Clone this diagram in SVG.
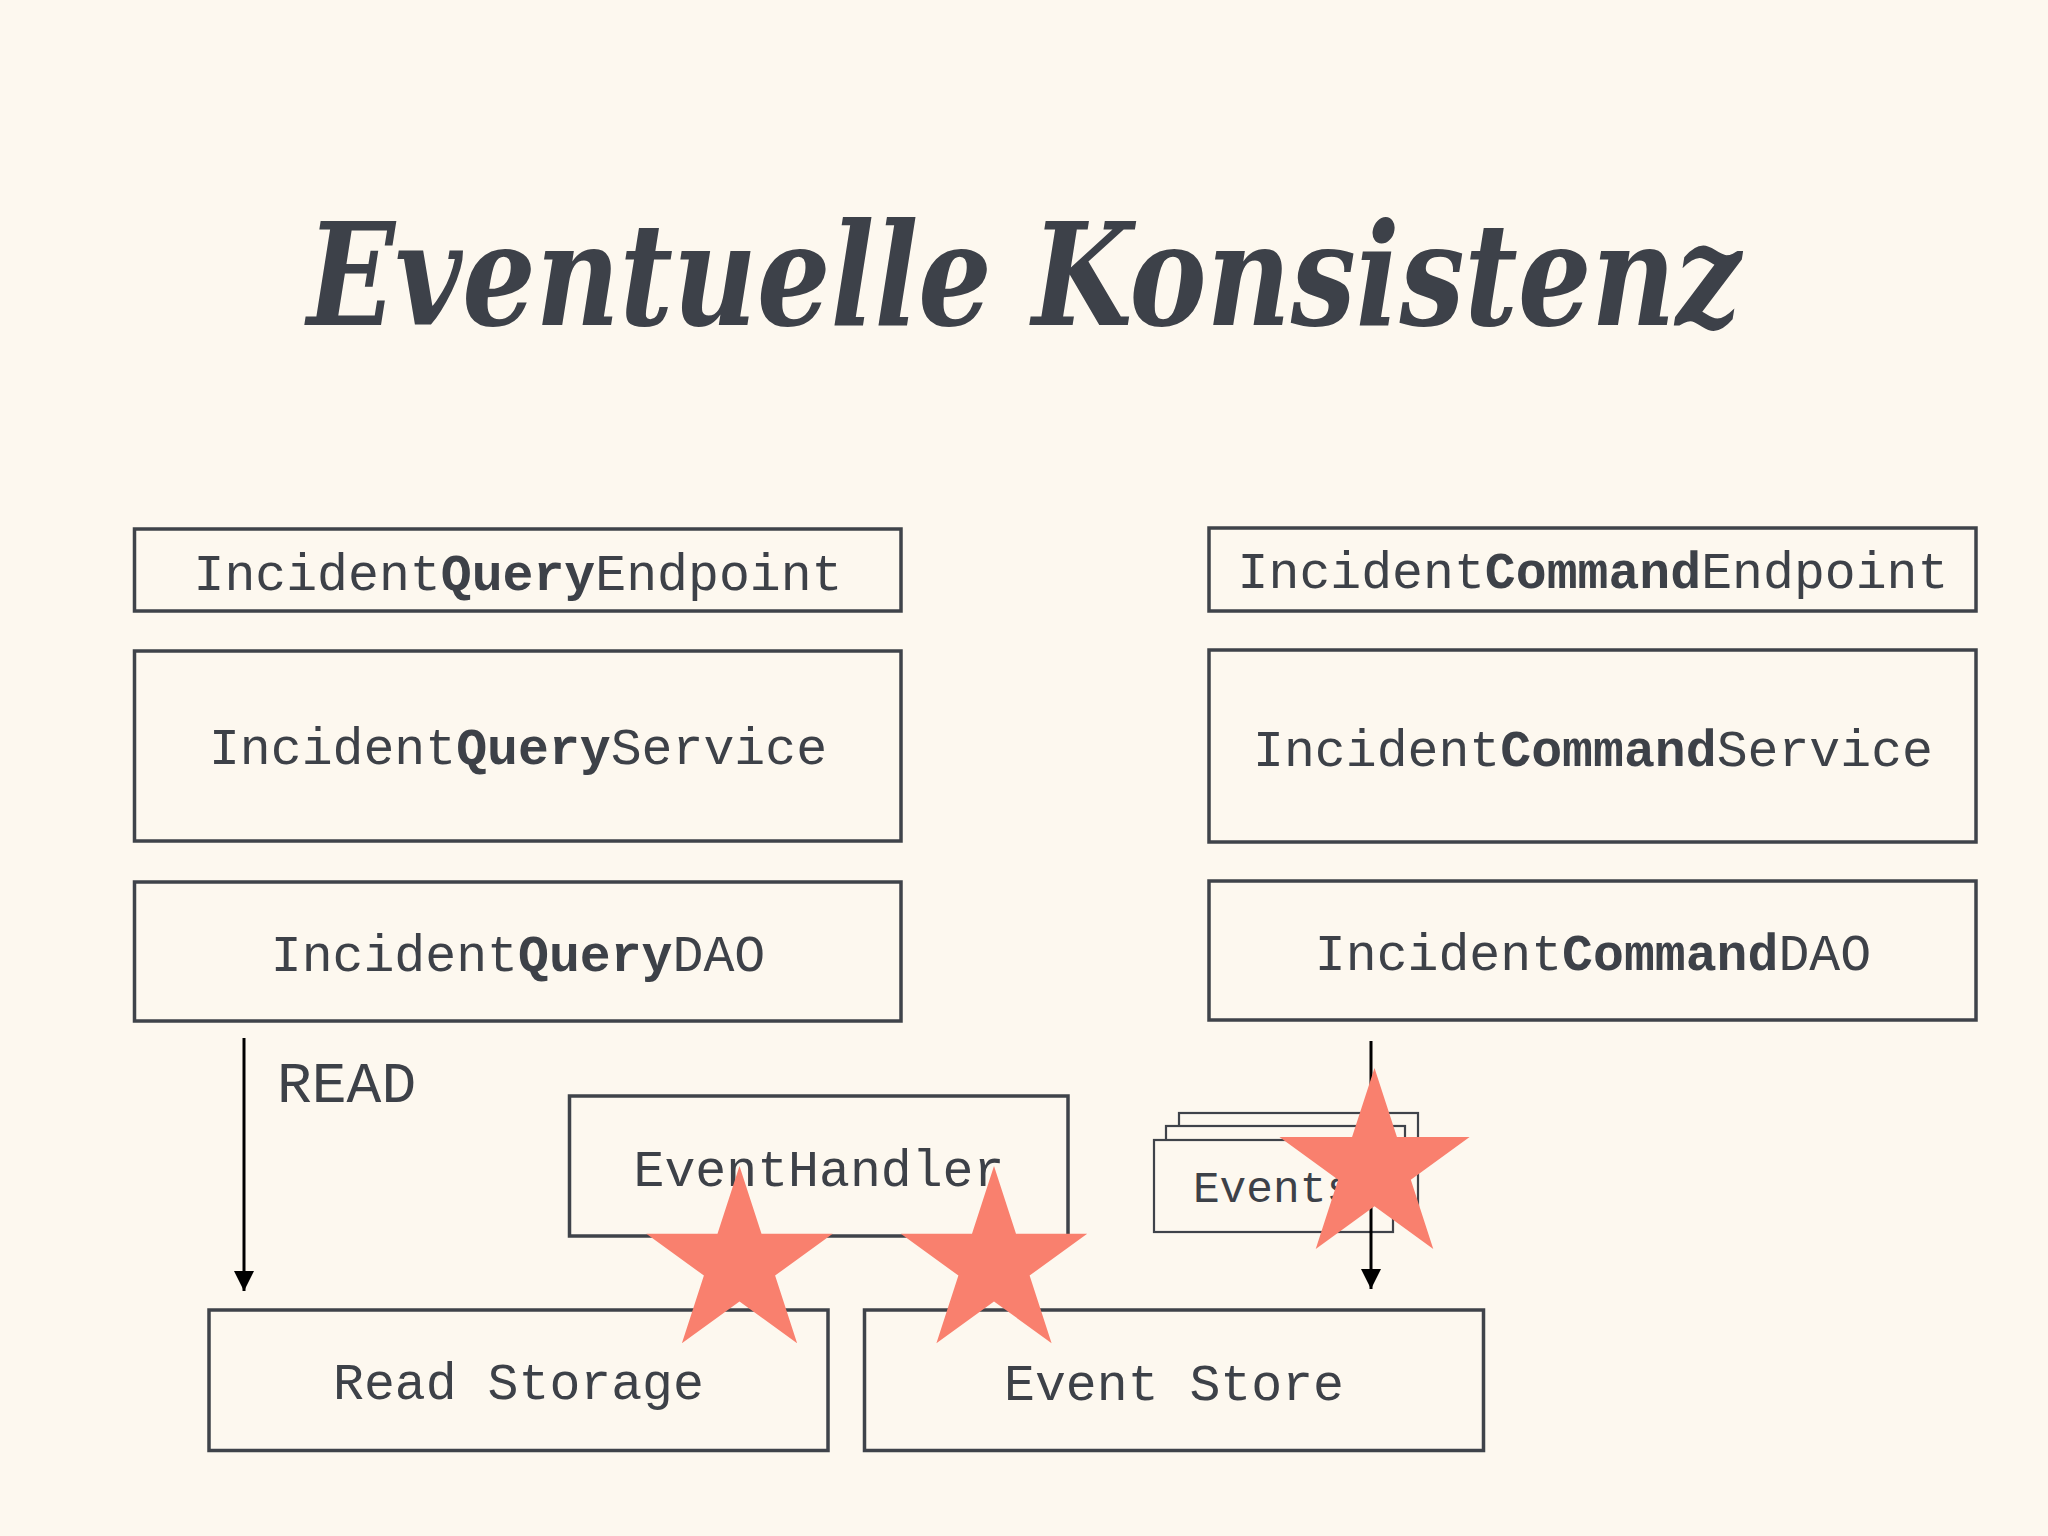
<svg xmlns="http://www.w3.org/2000/svg" width="2048" height="1536" viewBox="0 0 2048 1536">
<defs>
<style>
.box{fill:#fdf8ef;stroke:#3f434a;stroke-width:3.5}
.card{fill:#fdf8ef;stroke:#3f434a;stroke-width:2.2}
.lbl{font-family:"Liberation Mono","Courier New",monospace;font-size:51.5px;fill:#3d4148;text-anchor:middle}
.b{font-weight:bold}
.conn{stroke:#000;stroke-width:3;fill:none}
.star{fill:#f9806e}
.title{font-family:"DejaVu Serif","Liberation Serif",serif;font-weight:bold;font-style:italic;font-size:143px;fill:#3d4149}
</style>
<marker id="arr" markerUnits="userSpaceOnUse" markerWidth="20" markerHeight="20" viewBox="0 0 18 18" refX="18" refY="9" orient="auto"><path d="M0,0 L18,9 L0,18 z" fill="#000"/></marker>
<path id="starShape" d="M0,-100 L22.45,-30.9 L95.1,-30.9 L36.33,11.8 L58.78,80.9 L0,38.2 L-58.78,80.9 L-36.33,11.8 L-95.1,-30.9 L-22.45,-30.9 Z"/>
</defs>
<rect width="2048" height="1536" fill="#fdf8ef"/>
<text class="title" x="307" y="325" font-stretch="condensed" textLength="1434" lengthAdjust="spacingAndGlyphs">Eventuelle Konsistenz</text>

<g id="query-endpoint"><rect class="box" x="134.5" y="529" width="766.5" height="82"/><text class="lbl" x="518" y="590">Incident<tspan class="b">Query</tspan>Endpoint</text></g>
<g id="query-service"><rect class="box" x="134.5" y="651" width="766.5" height="190"/><text class="lbl" x="518" y="764">Incident<tspan class="b">Query</tspan>Service</text></g>
<g id="query-dao"><rect class="box" x="134.5" y="882" width="766.5" height="139"/><text class="lbl" x="518" y="971">Incident<tspan class="b">Query</tspan>DAO</text></g>

<g id="command-endpoint"><rect class="box" x="1209" y="528" width="767" height="83"/><text class="lbl" x="1593" y="588">Incident<tspan class="b">Command</tspan>Endpoint</text></g>
<g id="command-service"><rect class="box" x="1209" y="650" width="767" height="192"/><text class="lbl" x="1593" y="766">Incident<tspan class="b">Command</tspan>Service</text></g>
<g id="command-dao"><rect class="box" x="1209" y="881" width="767" height="139"/><text class="lbl" x="1593" y="970">Incident<tspan class="b">Command</tspan>DAO</text></g>

<g id="event-handler"><rect class="box" x="569.5" y="1096" width="498.5" height="140"/><text class="lbl" x="819" y="1186">EventHandler</text></g>
<g id="read-storage"><rect class="box" x="209" y="1310" width="619" height="140.5"/><text class="lbl" x="518.5" y="1399">Read Storage</text></g>
<g id="event-store"><rect class="box" x="864.5" y="1310" width="619" height="140.5"/><text class="lbl" x="1174" y="1400">Event Store</text></g>

<g id="events">
<rect class="card" x="1179" y="1113" width="239" height="93"/>
<rect class="card" x="1166" y="1126" width="239" height="93"/>
<rect class="card" x="1154" y="1140" width="239" height="92"/>
<text x="1273" y="1202" font-family="Liberation Mono, Courier New, monospace" font-size="44.5" fill="#3d4148" text-anchor="middle">Events</text>
</g>

<g id="connectors">
<line class="conn" x1="244" y1="1038" x2="244" y2="1291" marker-end="url(#arr)"/>
<text x="277" y="1102" font-family="Liberation Mono, Courier New, monospace" font-size="58" fill="#3d4148">READ</text>
<line class="conn" x1="1371" y1="1041" x2="1371" y2="1289" marker-end="url(#arr)"/>
</g>

<g id="stars">
<use href="#starShape" class="star" transform="translate(739.5,1264) scale(0.98)"/>
<use href="#starShape" class="star" transform="translate(994,1264) scale(0.98)"/>
<use href="#starShape" class="star" transform="translate(1374.5,1168) scale(1)"/>
</g>
</svg>
